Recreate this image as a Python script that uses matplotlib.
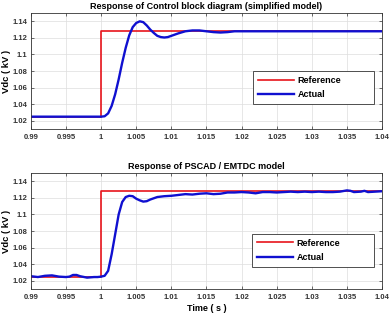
import numpy as np
import matplotlib
matplotlib.use('Agg')
import matplotlib.pyplot as plt

plt.rcParams['font.family'] = ['Liberation Sans', 'DejaVu Sans']

# reference step (both panels)
ref_t = [0.99, 1.0, 1.0, 1.04]
ref_v = [1.025, 1.025, 1.128, 1.128]

# simplified model response
top_t = [0.99, 0.999, 1.000, 1.0005, 1.001, 1.0015, 1.002, 1.0025, 1.003, 1.0035,
         1.004, 1.0045, 1.005, 1.0055, 1.006, 1.0065, 1.007, 1.0075, 1.008, 1.0085,
         1.009, 1.0095, 1.010, 1.011, 1.012, 1.013, 1.014, 1.015, 1.016, 1.017,
         1.018, 1.019, 1.04]
top_v = [1.025, 1.025, 1.025, 1.0255, 1.029, 1.038, 1.052, 1.070, 1.090, 1.108,
         1.123, 1.133, 1.138, 1.140, 1.139, 1.135, 1.130, 1.126, 1.1225, 1.121,
         1.1205, 1.121, 1.1225, 1.1255, 1.128, 1.129, 1.129, 1.128, 1.127, 1.1265,
         1.127, 1.128, 1.128]

# PSCAD / EMTDC response
bot_t = [0.990, 0.991, 0.992, 0.993, 0.994, 0.995, 0.9955, 0.996, 0.9965, 0.997,
         0.998, 0.999, 0.9995, 1.000, 1.0005, 1.001, 1.0015, 1.002, 1.0025, 1.003,
         1.0035, 1.004, 1.0045, 1.005, 1.0055, 1.006, 1.0065, 1.007, 1.0075, 1.008,
         1.009, 1.010, 1.011, 1.012, 1.013, 1.014, 1.015, 1.016, 1.017, 1.018,
         1.019, 1.020, 1.021, 1.022, 1.023, 1.024, 1.025, 1.026, 1.027, 1.028,
         1.029, 1.030, 1.031, 1.032, 1.033, 1.034, 1.035, 1.0355, 1.036, 1.037,
         1.0375, 1.038, 1.039, 1.040]
bot_v = [1.0255, 1.0245, 1.026, 1.0265, 1.025, 1.0245, 1.025, 1.027, 1.027, 1.0255,
         1.0238, 1.0245, 1.0245, 1.025, 1.026, 1.032, 1.052, 1.076, 1.100, 1.115,
         1.121, 1.1225, 1.122, 1.119, 1.117, 1.1155, 1.116, 1.118, 1.1195, 1.121,
         1.122, 1.1225, 1.1235, 1.1245, 1.124, 1.125, 1.1255, 1.1245, 1.125, 1.1265,
         1.1265, 1.127, 1.1265, 1.1255, 1.127, 1.127, 1.1265, 1.127, 1.1275, 1.127,
         1.1275, 1.127, 1.1275, 1.127, 1.127, 1.1275, 1.129, 1.1285, 1.127, 1.1275,
         1.1285, 1.127, 1.1275, 1.128]

xticks = [0.99, 0.995, 1.0, 1.005, 1.01, 1.015, 1.02, 1.025, 1.03, 1.035, 1.04]
xlabels = ['0.99', '0.995', '1', '1.005', '1.01', '1.015', '1.02', '1.025', '1.03', '1.035', '1.04']
yticks = [1.02, 1.04, 1.06, 1.08, 1.1, 1.12, 1.14]
ylabels = ['1.02', '1.04', '1.06', '1.08', '1.1', '1.12', '1.14']

fig = plt.figure(figsize=(3.91, 3.18), dpi=100)
ax1 = fig.add_axes([0.079, 0.594, 0.898, 0.365])
ax2 = fig.add_axes([0.079, 0.091, 0.898, 0.365])

panels = [(ax1, top_t, top_v, 'Response of Control block diagram (simplified model)', (0.632, 0.215, 0.345, 0.285)),
          (ax2, bot_t, bot_v, 'Response of PSCAD / EMTDC model', (0.629, 0.19, 0.348, 0.32))]

for ax, t, v, title, lbox in panels:
	ax.plot(ref_t, ref_v, color='#e8141b', linewidth=1.2, label='Reference')
	ax.plot(t, v, color='#1010d0', linewidth=1.7, label='Actual')
	ax.set_xlim(0.99, 1.04)
	ax.set_ylim(1.01, 1.15)
	ax.set_xticks(xticks)
	ax.set_xticklabels(xlabels, fontsize=5.5, fontweight='bold')
	ax.set_yticks(yticks)
	ax.set_yticklabels(ylabels, fontsize=5.5, fontweight='bold')
	ax.tick_params(direction='in', length=2, width=0.5, pad=3.5, right=True, top=True, colors='#333333')
	ax.tick_params(axis='y', pad=2.5)
	ax.grid(True, color='#dddddd', linewidth=0.5)
	for s in ax.spines.values():
		s.set_linewidth(0.6)
		s.set_color('#333333')
	ax.set_title(title, fontsize=6.5, fontweight='bold', pad=3)
	ax.set_ylabel('Vdc ( kV )', fontsize=6.8, fontweight='bold')
	ax.yaxis.set_label_coords(-0.057, 0.5)
	leg = ax.legend(loc='lower left', bbox_to_anchor=lbox, mode='expand', prop={'weight': 'bold', 'size': 6.5},
		fancybox=False, framealpha=1, edgecolor='#333333', handlelength=4.0, handletextpad=0.4,
		borderpad=0.55, labelspacing=0.6, borderaxespad=0.0)
	leg.get_frame().set_linewidth(0.6)

ax2.set_xlabel('Time ( s )', fontsize=6.5, fontweight='bold', labelpad=2)

plt.savefig('out.png', dpi=100)
plt.close()
